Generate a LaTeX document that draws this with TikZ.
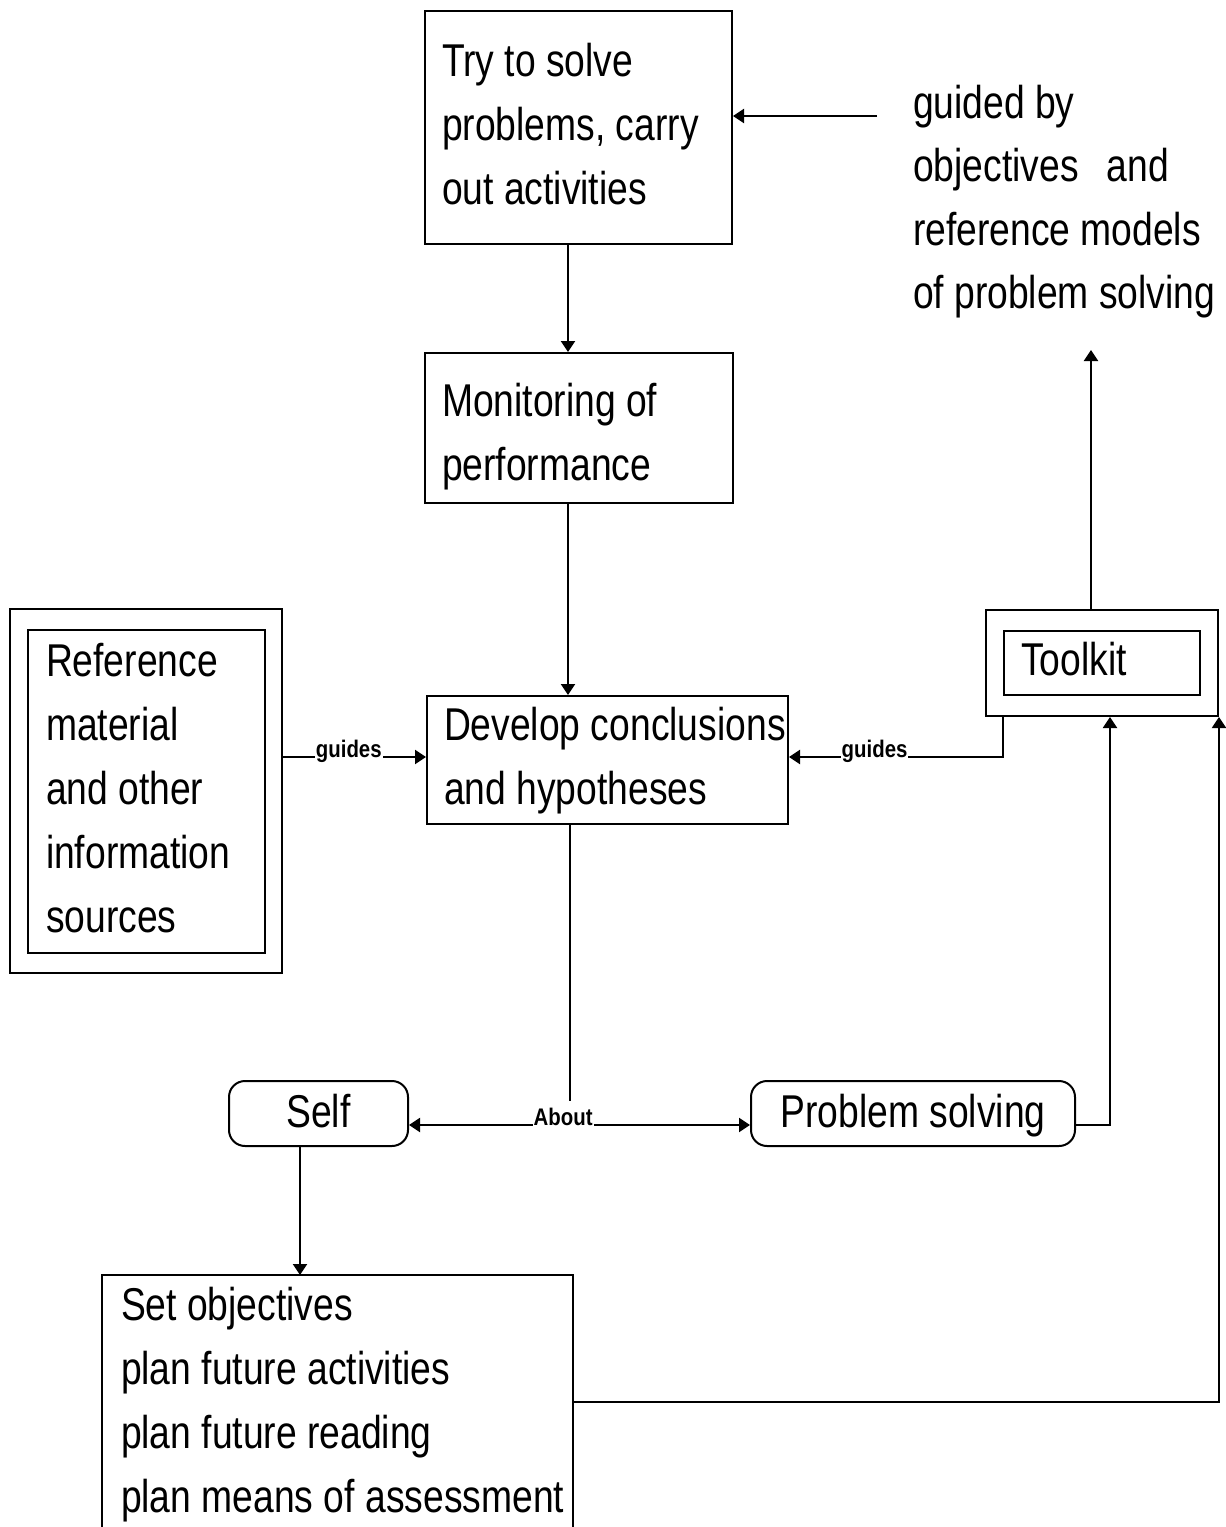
\documentclass[tikz,border=0pt]{standalone}
\usepackage{fontspec}
\setmainfont[FakeStretch=0.81]{Liberation Sans}
\newfontfamily\labfont[FakeStretch=0.85]{Liberation Sans Bold}
\usetikzlibrary{arrows.meta}
\newcommand\fixsp{\spaceskip=0pt\xspaceskip=0pt\relax}
\begin{document}
\begin{tikzpicture}[x=1pt,y=-1pt,line width=2pt,
  bigfont/.style={font=\fontsize{46}{64}\selectfont},
  box/.style={draw, rectangle, anchor=north west, align=left, inner ysep=0pt, inner xsep=17pt, bigfont,
    execute at begin node=\fixsp\strut, execute at end node=\strut},
  frame/.style={draw, rectangle, anchor=north west, inner sep=0pt},
  pill/.style={draw, rectangle, rounded corners=16pt, bigfont, inner xsep=0pt, inner ysep=0pt,
    text height=46pt, text depth=19pt, anchor=base},
  free/.style={align=left, inner sep=0pt, anchor=north west, font=\fontsize{46}{63.5}\selectfont,
    execute at begin node=\fixsp},
  lab/.style={fill=white, inner xsep=1pt, inner ysep=1pt, anchor=base, font=\labfont\fontsize{24}{28}\selectfont},
  arr/.style={-{Triangle[length=11pt,width=14pt]}},
  arrb/.style={{Triangle[length=11pt,width=14pt]}-{Triangle[length=11pt,width=14pt]}}
]
\useasboundingbox (0,0) rectangle (1226,1527);
\clip (0,0) rectangle (1226,1527);

% boxes
\node[box, minimum width=307pt, minimum height=233pt, text width=273pt] (b1) at (424,10)
  {\mbox{Try to solve}\\\mbox{problems, carry}\\\mbox{out activities}};
\node[box, execute at begin node=\fixsp\rule{0pt}{60pt}, minimum width=308pt, minimum height=150pt, text width=274pt] (b2) at (424,352)
  {\mbox{Monitoring of}\\\mbox{performance}};
\node[box, execute at begin node=\fixsp\rule{0pt}{40pt}, minimum width=361pt, minimum height=128pt, text width=327pt] (b3) at (426,695)
  {\mbox{Develop conclusions}\\\mbox{and hypotheses}};

\node[frame, minimum width=272pt, minimum height=364pt] (ref0) at (9,608) {};
\node[box, inner xsep=18pt, minimum width=237pt, minimum height=323pt, text width=201pt] (ref) at (27,629)
  {\mbox{Reference}\\\mbox{material}\\\mbox{and other}\\\mbox{information}\\\mbox{sources}};

\node[frame, minimum width=232pt, minimum height=106pt] (tk) at (985,609) {};
\node[box, minimum width=196pt, minimum height=64pt, text width=162pt] (tkin) at (1003,630) {\mbox{Toolkit}};

\node[pill, minimum width=179pt] (self) at (318.5,1127) {Self};
\node[pill, minimum width=324pt] (ps) at (913,1127) {Problem solving};

\node[box, draw=none, inner xsep=18pt, minimum width=469pt, minimum height=250pt, text width=433pt] (so) at (102,1275)
  {\mbox{Set objectives}\\\mbox{plan future activities}\\\mbox{plan future reading}\\\mbox{plan means of assessment}};
\draw (so.north west) ++(0,320) -- (so.north west) -- (so.north east) -- ++(0,320);

\node[free] (gd) at (912,84)
  {guided by\\objectives\hspace{18pt} and\\reference models\\of problem solving};

% coordinates
\coordinate (cx) at (568,0);
\coordinate (g0) at (877,116);
\coordinate (tup) at (1091,350);
\coordinate (gy) at (0,757);
\coordinate (ax) at (570,0);
\coordinate (ay) at (0,1125);
\coordinate (px) at (1110,0);
\coordinate (sx) at (300,0);
\coordinate (sy) at (0,1402);

% connectors
\draw[arr] (cx |- b1.south) -- (cx |- b2.north);
\draw[arr] (cx |- b2.south) -- (cx |- b3.north);
\draw[arr] (g0) -- (g0 -| b1.east);
\draw[arr] (tup |- tk.north) -- (tup);
\draw[arr] (tkin.west |- tk.south) -- (tkin.west |- gy) -- node[lab, pos=0.6] {guides} (b3.east |- gy);
\draw[arr] (ref0.east |- gy) -- node[lab, pos=0.46] {guides} (b3.west |- gy);
\draw[arrb] (self.east |- ay) -- node[lab, pos=0.452, outer ysep=6pt] (about) {About} (ps.west |- ay);
\draw (ax |- b3.south) -- (ax |- about.north);
\draw[arr] (ps.east |- ay) -| (px |- tk.south);
\draw[arr] (sx |- self.south) -- (sx |- so.north);
\draw[arr] (so.east |- sy) -| (tk.south east);
\end{tikzpicture}
\end{document}
